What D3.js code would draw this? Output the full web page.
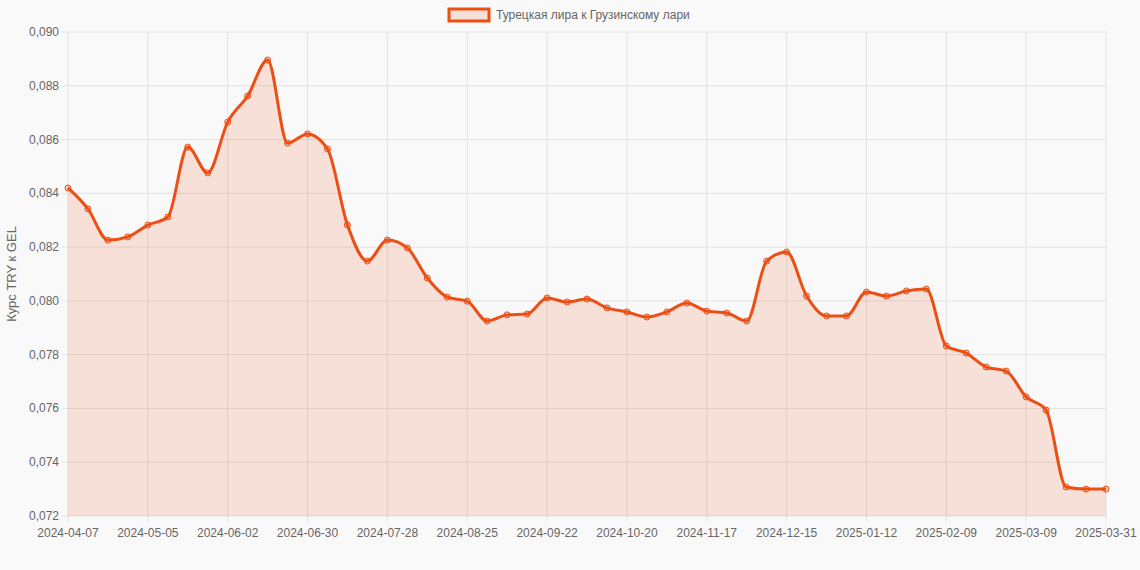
<!DOCTYPE html>
<html><head><meta charset="utf-8">
<script src="https://cdn.jsdelivr.net/npm/d3@7"></script>
<style>body{margin:0;background:#f9f9f9;font-family:"Liberation Sans",Arial,sans-serif}</style>
</head><body><svg id="c" width="1140" height="570"></svg>
<script>
var seriesName = "Турецкая лира к Грузинскому лари";
var yTitle = "Курс TRY к GEL";
var rates = [0.08420,0.08342,0.08226,0.08238,0.08282,0.08312,0.08572,0.08476,0.08665,0.08762,
  0.08896,0.08587,0.08621,0.08565,0.08282,0.08148,0.08226,0.08197,0.08085,0.08014,
  0.07999,0.07925,0.07948,0.07951,0.08011,0.07996,0.08007,0.07974,0.07959,0.07940,
  0.07959,0.07992,0.07962,0.07955,0.07925,0.08148,0.08182,0.08018,0.07944,0.07944,
  0.08033,0.08018,0.08037,0.08044,0.07832,0.07806,0.07754,0.07739,0.07643,0.07594,
  0.07308,0.07300,0.07300];
var fmt = d3.timeFormat("%Y-%m-%d");
var dates = rates.map(function(d,i){ return fmt(d3.timeDay.offset(new Date(2024,3,7), i*7)); });
dates[dates.length-1] = "2025-03-31";
var yTicks = [0.072,0.074,0.076,0.078,0.080,0.082,0.084,0.086,0.088,0.090];

var margin = {top: 32, right: 34, bottom: 54, left: 68};
var width = 1140 - margin.left - margin.right;
var height = 570 - margin.top - margin.bottom;
var color = "#ec4e14";

var svg = d3.select("#c");
var g = svg.append("g").attr("transform","translate("+margin.left+","+margin.top+")");
var x = d3.scalePoint().domain(dates).range([0,width]);
var y = d3.scaleLinear().domain([0.072,0.090]).range([height,0]);
var tickDates = dates.filter(function(d,i){ return i%4==0 || i==dates.length-1; });

g.selectAll(".gx").data(tickDates).enter().append("line")
  .attr("x1",x).attr("x2",x).attr("y1",0).attr("y2",height+6).attr("stroke","#e2e2e2");
g.selectAll(".gy").data(yTicks).enter().append("line")
  .attr("x1",-6).attr("x2",width).attr("y1",y).attr("y2",y).attr("stroke","#e2e2e2");

g.selectAll(".yl").data(yTicks).enter().append("text")
  .attr("x",-9).attr("y",function(d){return y(d)+4;}).attr("text-anchor","end")
  .attr("font-size",12).attr("fill","#666").text(function(d){return d.toFixed(3).replace(".",",");});
g.selectAll(".xl").data(tickDates).enter().append("text")
  .attr("x",x).attr("y",height+21).attr("text-anchor","middle")
  .attr("font-size",12).attr("fill","#666").text(function(d){return d;});

svg.append("text").attr("transform","translate(16,"+(margin.top+height/2)+") rotate(-90)")
  .attr("text-anchor","middle").attr("font-size",13).attr("fill","#666").text(yTitle);

var area = d3.area().x(function(d,i){return x(dates[i]);}).y0(height).y1(function(d){return y(d);}).curve(d3.curveMonotoneX);
var line = d3.line().x(function(d,i){return x(dates[i]);}).y(function(d){return y(d);}).curve(d3.curveMonotoneX);
g.append("path").datum(rates).attr("d",area).attr("fill","rgba(236,78,20,0.15)");
g.append("path").datum(rates).attr("d",line).attr("fill","none").attr("stroke",color).attr("stroke-width",3);
g.selectAll(".pt").data(rates).enter().append("circle")
  .attr("cx",function(d,i){return x(dates[i]);}).attr("cy",y).attr("r",3)
  .attr("fill","rgba(236,78,20,0.25)").attr("stroke",color).attr("stroke-width",1);

var lg = svg.append("g");
lg.append("rect").attr("x",449).attr("y",9).attr("width",40).attr("height",12)
  .attr("fill","rgba(236,78,20,0.15)").attr("stroke",color).attr("stroke-width",3);
lg.append("text").attr("x",496).attr("y",19).attr("font-size",12).attr("fill","#666").text(seriesName);
</script></body></html>
